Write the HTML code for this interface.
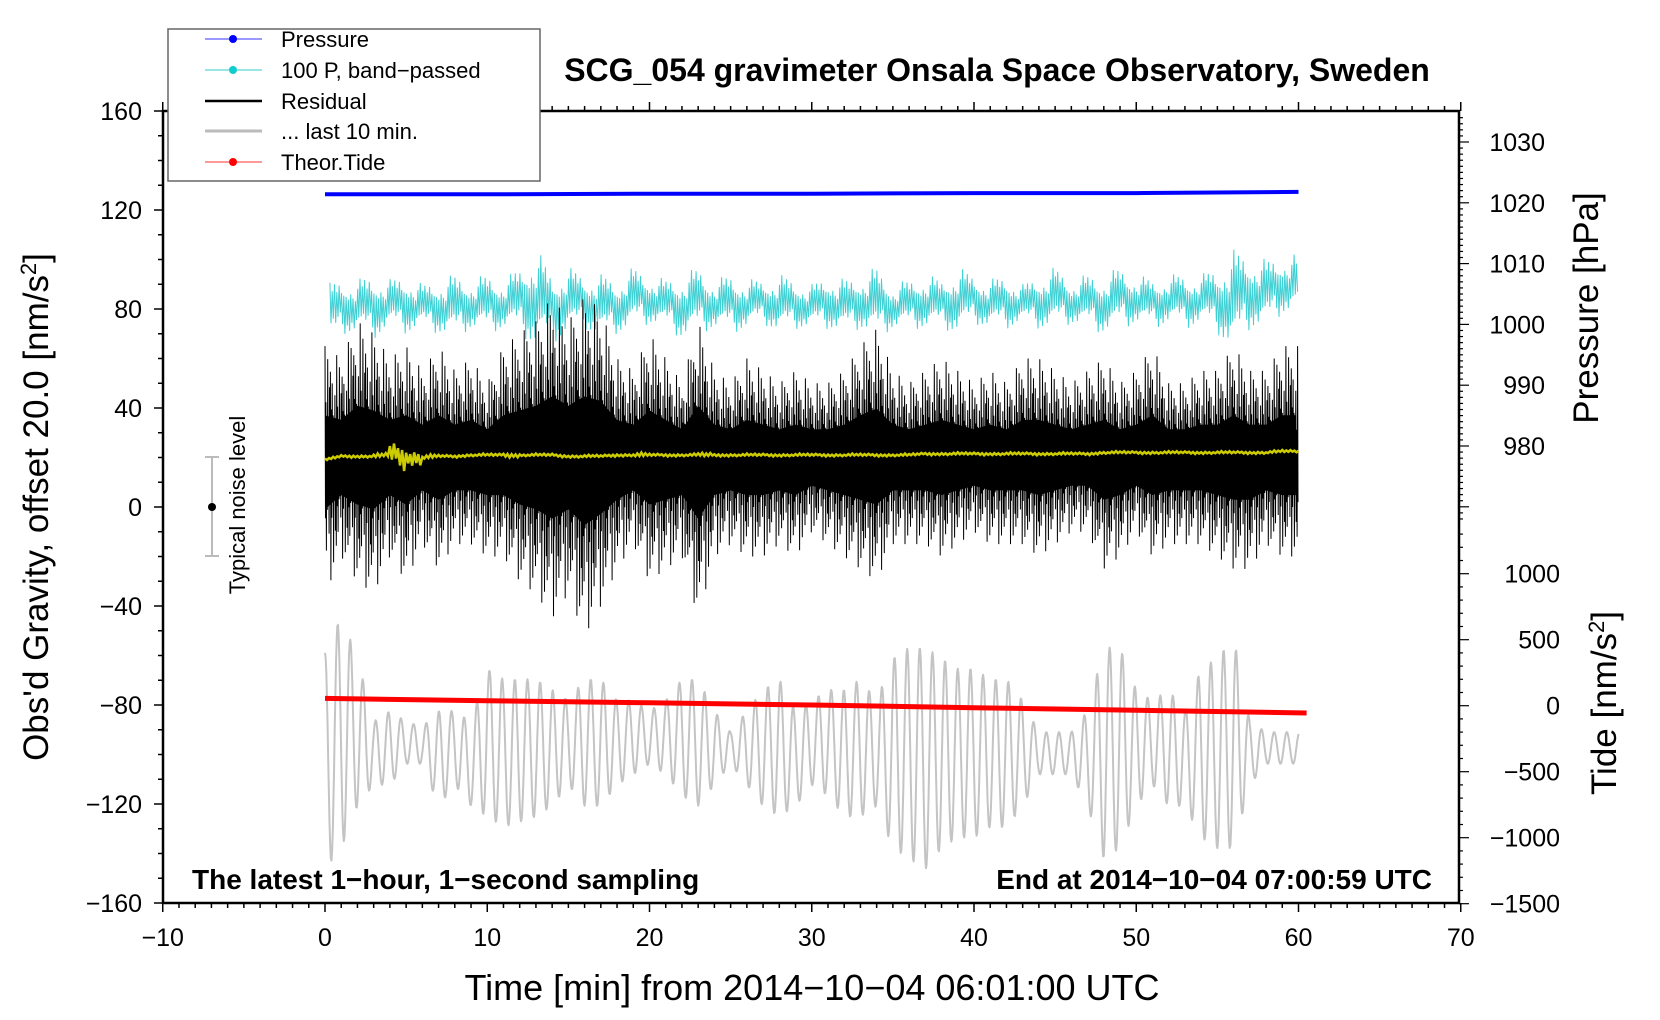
<!DOCTYPE html>
<html><head><meta charset="utf-8">
<style>
html,body{margin:0;padding:0;background:#fff;}
svg{display:block;font-family:"Liberation Sans",sans-serif;}
</style></head>
<body>
<svg id="chart" width="1660" height="1020" viewBox="0 0 1660 1020" xmlns="http://www.w3.org/2000/svg">
<g id="series"></g>
<g id="axes"></g>
<rect x="163" y="111" width="1296" height="792" fill="none" stroke="#000" stroke-width="2.5"/>
<text x="997" y="81" font-size="32" font-weight="bold" text-anchor="middle">SCG_054 gravimeter Onsala Space Observatory, Sweden</text>
<text x="192" y="889" font-size="28" font-weight="bold">The latest 1−hour, 1−second sampling</text>
<text x="1432" y="889" font-size="28" font-weight="bold" text-anchor="end">End at 2014−10−04 07:00:59 UTC</text>
<text x="812" y="1000" font-size="36" text-anchor="middle">Time [min] from 2014−10−04 06:01:00 UTC</text>
<text transform="translate(48,507) rotate(-90)" font-size="35" text-anchor="middle">Obs'd Gravity, offset 20.0 [nm/s<tspan dy="-12" font-size="22">2</tspan><tspan dy="12">]</tspan></text>
<text transform="translate(1598,308) rotate(-90)" font-size="35" text-anchor="middle">Pressure [hPa]</text>
<text transform="translate(1616,703) rotate(-90)" font-size="35" text-anchor="middle">Tide [nm/s<tspan dy="-12" font-size="22">2</tspan><tspan dy="12">]</tspan></text>
<g>
<line x1="212" y1="457" x2="212" y2="556" stroke="#bbb" stroke-width="2"/>
<line x1="205" y1="457" x2="219" y2="457" stroke="#bbb" stroke-width="2"/>
<line x1="205" y1="556" x2="219" y2="556" stroke="#bbb" stroke-width="2"/>
<circle cx="212" cy="507" r="4" fill="#000"/>
<text transform="translate(245,505) rotate(-90)" font-size="22" text-anchor="middle">Typical noise level</text>
</g>
<g>
<rect x="168" y="29" width="372" height="152" fill="#fff" stroke="#666" stroke-width="1.5"/>
<g><line x1="205" y1="39" x2="262" y2="39" stroke="#33f" stroke-width="1"/><circle cx="233" cy="39" r="4" fill="#00f"/><text x="281" y="47" font-size="22">Pressure</text></g>
<g><line x1="205" y1="70" x2="262" y2="70" stroke="#3cc" stroke-width="1"/><circle cx="233" cy="70" r="4" fill="#1cc"/><text x="281" y="78" font-size="22">100 P, band−passed</text></g>
<g><line x1="205" y1="101" x2="262" y2="101" stroke="#000" stroke-width="2.5"/><text x="281" y="109" font-size="22">Residual</text></g>
<g><line x1="205" y1="131" x2="262" y2="131" stroke="#bbb" stroke-width="3"/><text x="281" y="139" font-size="22">... last 10 min.</text></g>
<g><line x1="205" y1="162" x2="262" y2="162" stroke="#f33" stroke-width="1"/><circle cx="233" cy="162" r="4" fill="#f00"/><text x="281" y="170" font-size="22">Theor.Tide</text></g>
</g>
</svg>
<script>
// ---- data ----
const xTicks = [-10,0,10,20,30,40,50,60,70];
const yTicks = [160,120,80,40,0,-40,-80,-120,-160];
const pTicks = [1030,1020,1010,1000,990,980];
const tTicks = [1000,500,0,-500,-1000,-1500];
const minutes = [0,1,2,3,4,5,6,7,8,9,10,11,12,13,14,15,16,17,18,19,20,21,22,23,24,25,26,27,28,29,30,31,32,33,34,35,36,37,38,39,40,41,42,43,44,45,46,47,48,49,50,51,52,53,54,55,56,57,58,59];
const residHi = [65,60,75,70,60,65,55,65,55,60,50,65,70,75,85,75,85,80,60,55,70,60,50,75,55,50,60,55,50,55,50,50,55,65,72,55,50,55,60,55,50,55,50,60,60,55,50,55,60,50,55,65,50,50,55,55,65,55,55,65];
const residLo = [-35,-20,-30,-35,-20,-30,-15,-25,-15,-15,-20,-20,-30,-35,-45,-35,-52,-40,-25,-15,-30,-25,-20,-45,-20,-15,-20,-20,-15,-20,-10,-15,-20,-25,-30,-15,-15,-15,-20,-15,-10,-15,-15,-15,-20,-15,-10,-10,-25,-20,-10,-20,-15,-15,-15,-20,-25,-25,-15,-20];
const cyanHi = [88,90,90,92,90,92,88,90,92,90,92,90,95,103,92,95,92,92,90,95,92,90,92,95,90,92,90,90,92,90,88,92,90,92,95,88,90,92,90,95,92,90,92,88,92,95,90,92,92,95,92,90,92,92,92,95,102,100,98,100];
const cyanLo = [62,68,68,66,70,68,70,68,66,70,68,70,68,62,64,68,70,66,68,70,72,70,66,68,70,68,70,72,68,70,70,70,68,70,66,70,70,70,70,68,72,70,70,72,70,70,72,70,68,70,72,70,72,70,72,68,60,70,70,76];
const yellowBase = [19,20.5,20.5,20.5,21,20.5,20,20.5,20.5,21,21,21,21,21,21,20.5,20.5,20.5,21,21,21,21,21,21,21,21,21,21,21,21,21,21,21,21,21,21,21,21.5,21.5,21.5,21.5,21.5,21.5,21.5,21.5,21.5,21.5,21.5,22,22,22,22,22,22,22,22,22,22,22,22.5];
const yellowAmp = [0.6,0.6,0.6,1,6,4,1,0.6,0.6,0.6,0.6,1,0.6,0.6,0.6,0.6,0.6,0.6,0.6,1,0.6,0.6,0.6,1,0.6,0.6,0.6,0.6,0.6,0.6,0.6,0.6,0.6,0.6,0.6,0.6,0.6,0.6,0.6,0.6,0.6,0.6,0.6,0.6,0.6,0.6,0.6,0.6,0.6,0.6,0.6,0.6,0.6,0.6,0.6,0.6,0.6,0.6,0.6,0.6];
const grayHi = [400,680,360,-120,-40,-120,-160,-40,-40,-120,280,200,200,200,120,40,200,200,40,40,-40,40,200,200,-40,-200,-40,120,200,-40,40,120,120,200,40,360,440,440,360,280,280,200,200,40,-200,-200,-200,-40,440,440,120,40,120,-40,280,360,520,-120,-200,-200];
const grayLo = [-1240,-1080,-760,-600,-600,-440,-440,-760,-600,-760,-840,-920,-880,-840,-760,-600,-760,-760,-600,-520,-440,-520,-680,-760,-600,-440,-600,-760,-840,-760,-600,-680,-840,-840,-760,-1080,-1160,-1240,-1080,-1000,-1000,-920,-920,-760,-520,-520,-520,-760,-1160,-1080,-760,-600,-760,-760,-1000,-1080,-1080,-600,-440,-440];
const tideT = [0,10,20,30,40,50,60.5];
const tideV = [55,38,22,5,-15,-35,-55];
const presT = [0,10,20,30,40,50,60];
const presV = [1021.4,1021.4,1021.5,1021.5,1021.6,1021.6,1021.8];

// ---- axis functions ----
const X = m => 325 + m*16.225;
const Y = v => 111 + (160 - v)*2.475;
const YP = p => 142 + (1030 - p)*6.08;
const YT = t => 705.7 - t*0.132;
const NS = 'http://www.w3.org/2000/svg';
const seriesG = document.getElementById('series');
const axesG = document.getElementById('axes');
function mk(tag, parent){ const e = document.createElementNS(NS, tag); parent.appendChild(e); return e; }
function lerpArr(arr, t){ // value at fractional minute
  const i = Math.min(Math.floor(t), arr.length-1), j = Math.min(i+1, arr.length-1), f = t - i;
  return arr[i]*(1-f) + arr[j]*f;
}

// ---- axes ----
for (let m=-10; m<=70; m++){
  const major = m%10===0, L = major?9:5;
  const b = mk('line', axesG); b.setAttribute('x1',X(m)); b.setAttribute('x2',X(m)); b.setAttribute('y1',903); b.setAttribute('y2',903+L); b.setAttribute('stroke','#000'); b.setAttribute('stroke-width',1.5);
  const t = mk('line', axesG); t.setAttribute('x1',X(m)); t.setAttribute('x2',X(m)); t.setAttribute('y1',111); t.setAttribute('y2',111-L); t.setAttribute('stroke','#000'); t.setAttribute('stroke-width',1.5);
}
xTicks.forEach(v=>{
  const t = mk('text', axesG);
  
  
  t.setAttribute('x',X(v)); t.setAttribute('y',946); t.setAttribute('font-size',25); t.setAttribute('text-anchor','middle');
  t.textContent = String(v).replace('-','−');
});
for (let v=-160; v<=160; v+=10){
  const L = v%40===0?9:5;
  const l = mk('line', axesG); l.setAttribute('x1',163-L); l.setAttribute('x2',163); l.setAttribute('y1',Y(v)); l.setAttribute('y2',Y(v)); l.setAttribute('stroke','#000'); l.setAttribute('stroke-width',1.5);
}
yTicks.forEach(v=>{
  const t = mk('text', axesG);
  
  
  t.setAttribute('x',142); t.setAttribute('y',Y(v)+9); t.setAttribute('font-size',25); t.setAttribute('text-anchor','end');
  t.textContent = String(v).replace('-','−');
});
for (let p=968; p<=1034; p++){
  const yy = YP(p); if (yy<111) continue;
  const L = p%10===0?10:4;
  const l = mk('line', axesG); l.setAttribute('x1',1459); l.setAttribute('x2',1459+L); l.setAttribute('y1',yy); l.setAttribute('y2',yy); l.setAttribute('stroke','#000'); l.setAttribute('stroke-width',1.2);
}
pTicks.forEach(v=>{
  const t = mk('text', axesG);
  
  
  t.setAttribute('x',1545); t.setAttribute('y',YP(v)+9); t.setAttribute('font-size',25); t.setAttribute('text-anchor','end');
  t.textContent = v;
});
for (let t=-1500; t<=1300; t+=100){
  const L = t%500===0?10:4;
  const l = mk('line', axesG); l.setAttribute('x1',1459); l.setAttribute('x2',1459+L); l.setAttribute('y1',YT(t)); l.setAttribute('y2',YT(t)); l.setAttribute('stroke','#000'); l.setAttribute('stroke-width',1.2);
}
tTicks.forEach(v=>{
  const t = mk('text', axesG);
  
  
  t.setAttribute('x',1560); t.setAttribute('y',YT(v)+9); t.setAttribute('font-size',25); t.setAttribute('text-anchor','end');
  t.textContent = String(v).replace('-','−');
});

// ---- series ----
const osc = [1,0.35,0.7,0.25,0.9,0.45,0.6,0.3,0.8,0.2,0.5,0.65,0.4];
// gray last 10 min (tide axis): smooth oscillation between per-minute hi/lo
let d='';
for (let t=0; t<=60.0001; t+=0.04){
  const hi = lerpArr(grayHi, Math.min(t,59)), lo = lerpArr(grayLo, Math.min(t,59));
  const mid=(hi+lo)/2, amp=(hi-lo)/2;
  const v = mid + amp*Math.cos(2*Math.PI*t/0.78);
  d += (d?'L':'M') + X(t).toFixed(1) + ',' + YT(v).toFixed(1);
}
const gray = mk('path', seriesG);


gray.setAttribute('d', d); gray.setAttribute('fill','none'); gray.setAttribute('stroke','#c4c4c4'); gray.setAttribute('stroke-width',2); gray.setAttribute('stroke-linejoin','round');

// cyan band-passed
d=''; let n=0;
for (let t=0.3; t<=60; t+=1/14){
  const hi = lerpArr(cyanHi, Math.min(t,59)), lo = lerpArr(cyanLo, Math.min(t,59));
  const mid=(hi+lo)/2+2, amp=(hi-lo)/2;
  const s = (n%2===0?1:-1)*osc[n%13];
  d += (d?'L':'M') + X(t).toFixed(1) + ',' + Y(mid + s*amp).toFixed(1);
  n++;
}
const cyan = mk('path', seriesG);


cyan.setAttribute('d', d); cyan.setAttribute('fill','none'); cyan.setAttribute('stroke','#3fd0d4'); cyan.setAttribute('stroke-width',1);

// residual
let dh=''; n=0;
let upperEdge='', lowerEdge='';
for (let t=0; t<=60; t+=1/36){
  const tt=Math.min(t,59);
  const hi=lerpArr(residHi,tt), lo=lerpArr(residLo,tt), c=20;
  const f = osc[(n*5)%13];
  const v = (n%2===0)? c + (hi-c)*f : c + (lo-c)*f;
  dh += (dh?'L':'M') + X(t).toFixed(1) + ',' + Y(v).toFixed(1);
  if (n%6===0){
    upperEdge += (upperEdge?'L':'M') + X(t).toFixed(1)+','+Y(c+(hi-c)*0.38).toFixed(1);
    lowerEdge = 'L' + X(t).toFixed(1)+','+Y(c+(lo-c)*0.38).toFixed(1) + lowerEdge;
  }
  n++;
}
const core = mk('path', seriesG);


core.setAttribute('d', upperEdge + lowerEdge + 'Z'); core.setAttribute('fill','#000');
const resid = mk('path', seriesG);


resid.setAttribute('d', dh); resid.setAttribute('fill','none'); resid.setAttribute('stroke','#000'); resid.setAttribute('stroke-width',1);

// yellow smoothed
d=''; n=0;
for (let t=0; t<=60; t+=1/8){
  const tt=Math.min(t,59);
  const v = lerpArr(yellowBase,tt) + (n%2===0?1:-1)*yellowAmp[Math.floor(tt)]*osc[n%13];
  d += (d?'L':'M') + X(t).toFixed(1) + ',' + Y(v).toFixed(1);
  n++;
}
const yel = mk('path', seriesG);


yel.setAttribute('d', d); yel.setAttribute('fill','none'); yel.setAttribute('stroke','#cccc00'); yel.setAttribute('stroke-width',2.5);

// pressure
d = presT.map((t,i)=>(i?'L':'M')+X(t).toFixed(1)+','+YP(presV[i]).toFixed(1)).join('');
const pres = mk('path', seriesG);


pres.setAttribute('d', d); pres.setAttribute('fill','none'); pres.setAttribute('stroke','#0000ff'); pres.setAttribute('stroke-width',4);

// theoretical tide
d = tideT.map((t,i)=>(i?'L':'M')+X(t).toFixed(1)+','+YT(tideV[i]).toFixed(1)).join('');
const tide = mk('path', seriesG);


tide.setAttribute('d', d); tide.setAttribute('fill','none'); tide.setAttribute('stroke','#ff0000'); tide.setAttribute('stroke-width',5);
</script>
</body></html>
